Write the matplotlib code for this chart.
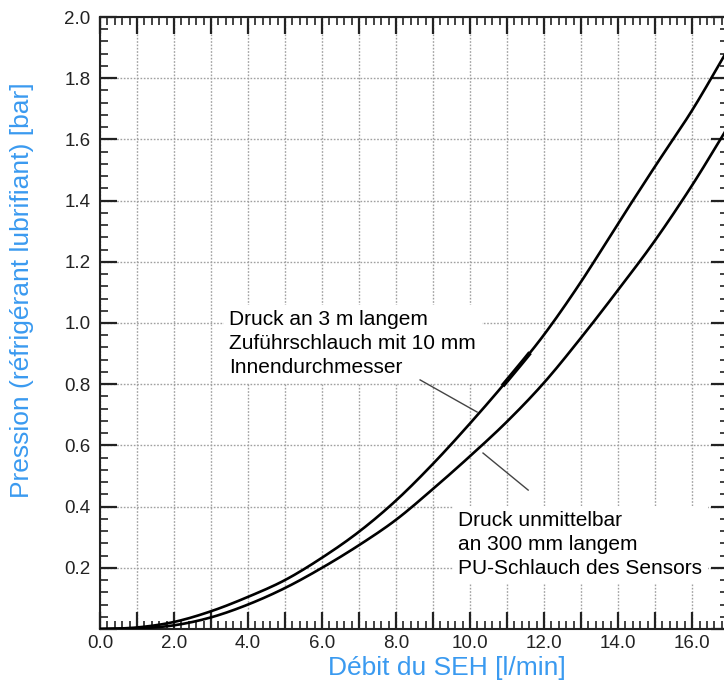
import matplotlib
matplotlib.use('Agg')
import matplotlib.pyplot as plt
import numpy as np
from matplotlib.ticker import MultipleLocator, FuncFormatter

plt.rcParams['font.family'] = ['Liberation Sans', 'DejaVu Sans']

# data
flow = [0, 1, 2, 3, 4, 5, 6, 7, 8, 9, 10, 11, 12, 13, 14, 15, 16, 16.9]
p_feed_hose = [0.0, 0.005, 0.023, 0.058, 0.105, 0.16, 0.233, 0.318, 0.42, 0.54,
               0.672, 0.812, 0.962, 1.135, 1.325, 1.512, 1.695, 1.88]
p_sensor_hose = [0.0, 0.002, 0.012, 0.038, 0.08, 0.134, 0.2, 0.274, 0.357, 0.458,
                 0.565, 0.678, 0.805, 0.952, 1.108, 1.27, 1.45, 1.627]

label_feed = 'Druck an 3 m langem\nZuführschlauch mit 10 mm\nInnendurchmesser'
label_sensor = 'Druck unmittelbar\nan 300 mm langem\nPU-Schlauch des Sensors'

blue = '#3a9af0'


def smooth(xs, ys, n=12):
    # Catmull-Rom through the read points
    x = np.asarray(xs, float)
    y = np.asarray(ys, float)
    px = np.concatenate([[2 * x[0] - x[1]], x, [2 * x[-1] - x[-2]]])
    py = np.concatenate([[2 * y[0] - y[1]], y, [2 * y[-1] - y[-2]]])
    outx, outy = [], []
    t = np.linspace(0, 1, n, endpoint=False)
    for i in range(1, len(px) - 2):
        for arr, out in ((px, outx), (py, outy)):
            p0, p1, p2, p3 = arr[i - 1:i + 3]
            out.extend(0.5 * (2 * p1 + (-p0 + p2) * t
                              + (2 * p0 - 5 * p1 + 4 * p2 - p3) * t ** 2
                              + (-p0 + 3 * p1 - 3 * p2 + p3) * t ** 3))
    outx.append(x[-1])
    outy.append(y[-1])
    return np.array(outx), np.array(outy)


fig = plt.figure(figsize=(7.24, 6.84), dpi=100)
ax = fig.add_axes([100 / 724, 55 / 684, 628 / 724, 612 / 684])

sx, sy = smooth(flow, p_feed_hose)
ax.plot(sx, sy, color='black', linewidth=1.9, zorder=3)
# short thicker stroke on the upper curve, as in the scan
m = (sx > 10.9) & (sx < 11.6)
ax.plot(sx[m], sy[m], color='black', linewidth=3.2, zorder=3)
sx2, sy2 = smooth(flow, p_sensor_hose)
ax.plot(sx2, sy2, color='black', linewidth=1.9, zorder=3)

ax.set_xlim(0, 16.97)
ax.set_ylim(0, 2.0)

ax.xaxis.set_major_locator(MultipleLocator(1.0))
ax.xaxis.set_minor_locator(MultipleLocator(0.2))
ax.yaxis.set_major_locator(MultipleLocator(0.2))
ax.yaxis.set_minor_locator(MultipleLocator(0.04))
ax.xaxis.set_major_formatter(FuncFormatter(
    lambda v, p: f'{v:.1f}' if round(v) % 2 == 0 else ''))
ax.yaxis.set_major_formatter(FuncFormatter(
    lambda v, p: f'{v:.1f}' if v > 0.01 else ''))

ax.tick_params(which='both', direction='in', top=True, right=True,
               colors='#222222', labelsize=13.5)
ax.tick_params(which='major', length=12, width=1.6)
ax.tick_params(which='minor', length=6, width=1.2)
ax.tick_params(axis='x', pad=4)
ax.tick_params(axis='y', pad=7)

ax.grid(which='major', color='#a0a0a0', linestyle=(0, (1.2, 1.2)), linewidth=1.0)
for s in ax.spines.values():
    s.set_linewidth(1.5)
    s.set_color('#222222')

ax.set_xlabel('Débit du SEH [l/min]', color=blue, fontsize=19)
ax.set_ylabel('Pression (réfrigérant lubrifiant) [bar]', color=blue, fontsize=19)
ax.xaxis.set_label_coords((447 - 100) / 628, -(656 - 629) / 612)
ax.yaxis.set_label_coords(-(100 - 34) / 628, (629 - 290) / 612)

box = dict(facecolor='white', edgecolor='none', pad=4)
ax.text(3.49, 1.042, label_feed, fontsize=15, va='top', ha='left',
        linespacing=1.33, bbox=box, zorder=4)
ax.text(9.68, 0.384, label_sensor, fontsize=15, va='top', ha='left',
        linespacing=1.33, bbox=box, zorder=4)

# leader lines
ax.plot([8.65, 10.19], [0.814, 0.709], color='#444444', linewidth=1.0, zorder=5)
ax.plot([10.35, 11.57], [0.575, 0.454], color='#444444', linewidth=1.0, zorder=5)

fig.savefig('out.png', dpi=100)
